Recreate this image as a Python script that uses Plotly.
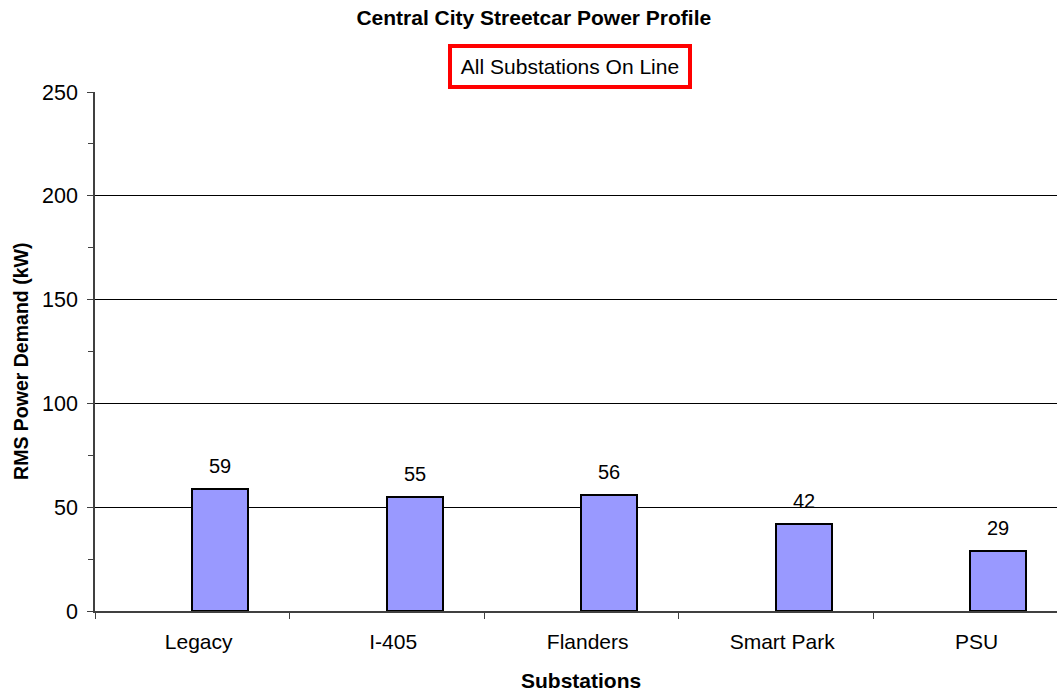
import plotly.graph_objects as go

# Substation RMS power demand (kW)
substations = ["Legacy", "I-405", "Flanders", "Smart Park", "PSU"]
demand_kw = [59, 55, 56, 42, 29]

positions = list(range(len(substations)))
bar_width = 0.289
label_shift = 0.033

FONT = "Liberation Sans, Arial, sans-serif"

fig = go.Figure()
fig.add_trace(go.Bar(
    x=positions,
    y=demand_kw,
    width=bar_width,
    offset=0,
    marker=dict(color="#9999FF", line=dict(color="#000000", width=2)),
    showlegend=False,
    hoverinfo="skip",
))

# value labels above each bar
for p, v in zip(positions, demand_kw):
    fig.add_annotation(
        x=p + bar_width / 2, y=v, xref="x", yref="y",
        text=str(v), showarrow=False, yanchor="bottom", yshift=10,
        font=dict(family=FONT, size=20, color="#000000"),
    )

# boxed subtitle
fig.add_annotation(
    x=0.4938, y=1.049, xref="paper", yref="paper",
    xanchor="center", yanchor="middle",
    text="All Substations On Line", showarrow=False,
    font=dict(family=FONT, size=21, color="#000000"),
    bordercolor="#FF0000", borderwidth=4, borderpad=4,
    bgcolor="#FFFFFF", width=228, height=29,
)

# axis titles
fig.add_annotation(
    x=0.505, y=-0.1337, xref="paper", yref="paper",
    xanchor="center", yanchor="middle",
    text="<b>Substations</b>", showarrow=False,
    font=dict(family=FONT, size=21, color="#000000"),
)
fig.add_annotation(
    x=-0.0769, y=0.48, xref="paper", yref="paper",
    xanchor="center", yanchor="middle", textangle=-90,
    text="<b>RMS Power Demand (kW)</b>", showarrow=False,
    font=dict(family=FONT, size=19.5, color="#000000"),
)

fig.update_layout(
    width=1057, height=692,
    margin=dict(l=95, r=0, t=91.5, b=80.5),
    paper_bgcolor="#FFFFFF", plot_bgcolor="#FFFFFF",
    font=dict(family=FONT, size=21, color="#000000"),
    title=dict(
        text="<b>Central City Streetcar Power Profile</b>",
        x=0.505, xref="container", xanchor="center",
        y=0.974, yref="container", yanchor="middle",
        font=dict(family=FONT, size=21, color="#000000"),
    ),
    bargap=0,
)

fig.update_xaxes(
    range=[-0.5, 4.446],
    tickmode="array",
    tickvals=[p + label_shift for p in positions],
    ticktext=substations,
    ticks="", ticklen=0, ticklabelstandoff=11,
    tickfont=dict(family=FONT, size=21, color="#000000"),
    showgrid=False, zeroline=False,
    showline=True, linecolor="#404040", linewidth=1.5,
    minor=dict(tick0=-0.5, dtick=1, ticks="outside", ticklen=6,
               tickcolor="#404040", tickwidth=1, showgrid=False),
)

fig.update_yaxes(
    range=[0, 250],
    tickmode="linear", tick0=0, dtick=50,
    ticks="outside", ticklen=6, tickcolor="#404040", tickwidth=1,
    ticklabelstandoff=5,
    tickfont=dict(family=FONT, size=21.5, color="#000000"),
    showgrid=True, gridcolor="#000000", gridwidth=1,
    zeroline=False,
    showline=True, linecolor="#404040", linewidth=1.5,
    minor=dict(dtick=25, ticks="outside", ticklen=5,
               tickcolor="#404040", tickwidth=1, showgrid=False),
)

fig.write_html("out.html")
